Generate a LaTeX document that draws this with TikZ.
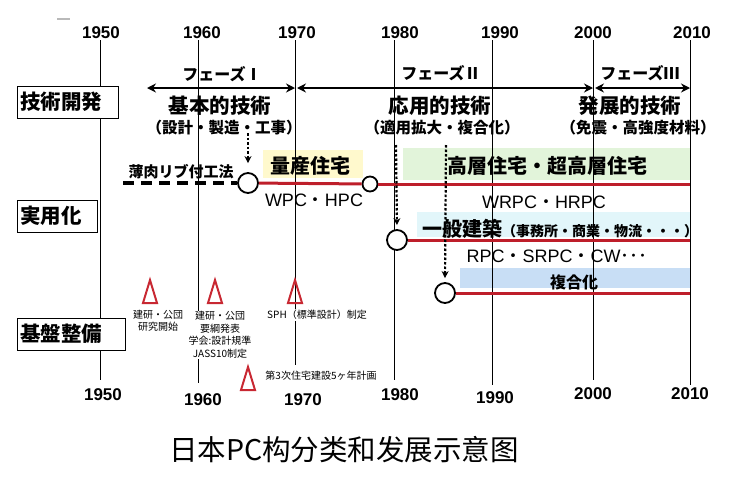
\documentclass[tikz,border=0pt]{standalone}
\usepackage{fontspec}
\setmainfont{Liberation Sans}
\newfontfamily\jp{Noto Sans CJK JP}
\newfontfamily\zh{Noto Sans CJK SC}
\usetikzlibrary{arrows.meta}

\definecolor{pcred}{RGB}{190,30,42}
\definecolor{tricol}{RGB}{200,40,50}
\definecolor{massbg}{RGB}{255,249,205}
\definecolor{highbg}{RGB}{226,244,218}
\definecolor{genbg}{RGB}{226,246,250}
\definecolor{mixbg}{RGB}{200,222,245}

\newcommand\fsz[2]{\fontsize{#1}{#2}\selectfont}

\tikzset{
  yearlab/.style={font=\bfseries\fsz{17}{17}},
  yearline/.style={line width=0.9pt},
  rowbox/.style={draw, line width=0.8pt, fill=white, anchor=west, inner xsep=3pt,
    minimum height=32pt, align=left, font=\jp\bfseries\fsz{20.5}{20.5}},
  phasearrow/.style={line width=2.5pt, {Stealth[length=9pt,width=9pt]}-{Stealth[length=9pt,width=9pt]}},
  phaselab/.style={font=\jp\bfseries\fsz{16}{16}},
  techlab/.style={font=\jp\bfseries\fsz{20.5}{20.5}},
  techsub/.style={font=\jp\bfseries\fsz{15.5}{15.5}},
  stage/.style={circle, draw, line width=1.8pt, fill=white, minimum size=20pt, inner sep=0pt},
  redline/.style={draw=pcred, line width=3pt},
  dotarrow/.style={line width=2.2pt, dash pattern=on 2.5pt off 2pt, -{Stealth[length=7pt,width=7pt]}},
  dashline/.style={line width=3.5pt, dash pattern=on 11pt off 7pt},
  prodlab/.style={font=\jp\bfseries\fsz{20}{20}},
  typelab/.style={font=\fsz{18}{18}},
  note/.style={font=\jp\fsz{10}{12.5}, align=center, fill=white, inner sep=1pt},
  triag/.style={draw=tricol, line width=2pt, line join=miter},
}

\begin{document}
\begin{tikzpicture}[x=1pt,y=-1pt]
  \useasboundingbox (0,0) rectangle (736,485);

  % coloured bands behind the rows
  \fill[massbg] (263,150) rectangle (363,178);
  \fill[highbg] (403,148) rectangle (690,180);
  \fill[genbg] (417,212) rectangle (690,237);
  \fill[mixbg] (460,268) rectangle (690,288);

  % year grid
  \foreach \xx/\yend in {100/380, 198/383, 295/365, 394/380, 492/385, 593/380, 690/385}
    \draw[yearline] (\xx,40) -- (\xx,\yend);
  \foreach \yr/\xx in {1950/101, 1960/202, 1970/297, 1980/400, 1990/500, 2000/593, 2010/692}
    \node[yearlab] (top\yr) at (\xx,33) {\yr};
  \foreach \yr/\xx/\yy in {1950/103/395, 1960/203/400, 1970/303/400, 1980/400/395, 1990/495/398, 2000/593/394, 2010/690/394}
    \node[yearlab] (bot\yr) at (\xx,\yy) {\yr};
  \draw[gray!55, line width=1.2pt] (57,19) -- (70,19);

  % row headings
  \node[rowbox, text width=95pt] (dev) at (17,102) {技術開発};
  \node[rowbox, text width=74pt] (prac) at (17,216) {実用化};
  \node[rowbox, text width=102pt] (base) at (17,334) {基盤整備};

  % phases
  \coordinate (p1a) at (147,88);
  \coordinate (p1b) at (295,88);
  \coordinate (p2a) at (297,88);
  \coordinate (p2b) at (593,88);
  \coordinate (p3a) at (595,88);
  \coordinate (p3b) at (690,88);
  \draw[phasearrow] (p1a) -- (p1b);
  \draw[phasearrow] (p2a) -- (p2b);
  \draw[phasearrow] (p3a) -- (p3b);
  \node[phaselab] (ph1) at (222,74) {フェーズⅠ};
  \node[phaselab] (ph2) at (441,73) {フェーズⅡ};
  \node[phaselab] (ph3) at (640,73) {フェーズⅢ};

  \node[techlab] (basic) at (220,106) {基本的技術};
  \node[techsub] (basicsub) at (224,128) {（設計・製造・工事）};
  \node[techlab] (applied) at (440,106) {応用的技術};
  \node[techsub] (appliedsub) at (442,128) {（適用拡大・複合化）};
  \node[techlab] (advanced) at (630,106) {発展的技術};
  \node[techsub] (advancedsub) at (638,128) {（免震・高強度材料）};

  % practical use
  \node[stage] (c1) at (248,183) {};
  \node[stage, minimum size=15pt] (c2) at (370,184) {};
  \node[stage] (c3) at (397,240) {};
  \node[stage] (c4) at (445,293) {};
  \coordinate (e2) at (690,184);
  \coordinate (e3) at (690,240);
  \coordinate (e4) at (690,293);
  \draw[redline] (c1) -- (c2);
  \draw[redline] (c2) -- (e2);
  \draw[redline] (c3) -- (e3);
  \draw[redline] (c4) -- (e4);

  \coordinate (ds) at (123,183);
  \draw[dashline] (ds) -- (c1.west);
  \node[font=\jp\bfseries\fsz{15}{15}] (thin) at (181,172) {薄肉リブ付工法};

  \coordinate (d1) at (248,133);
  \coordinate (d2) at (396,145);
  \coordinate (d3) at (446,145);
  \draw[dotarrow, shorten >=9pt] (d1) -- (c1.north);
  \draw[dotarrow, shorten >=4pt] (d2) -- (c3.north);
  \draw[dotarrow, shorten >=4pt] (d3) -- (c4.north);

  \node[prodlab] (mass) at (310,166) {量産住宅};
  \node[typelab] (wpc) at (314,200) {WPC{\jp ・}HPC};
  \node[prodlab] (high) at (547,166) {高層住宅・超高層住宅};
  \node[typelab] (wrpc) at (544,202) {WRPC{\jp ・}HRPC};
  \node[prodlab, anchor=west, inner sep=0pt] (gen) at (422,229)
    {一般建築{\fsz{14}{14}（事務所・商業・物流・・・）}};
  \node[typelab] (rpc) at (557,256) {RPC{\jp ・}SRPC{\jp ・}CW{\jp ･･･}};
  \node[prodlab, font=\jp\bfseries\fsz{16}{16}] (mix) at (574,282) {複合化};

  % foundations
  \draw[triag] (150,280) -- (143,303) -- (157,303) -- cycle;
  \draw[triag] (215,280) -- (208,303) -- (222,303) -- cycle;
  \draw[triag] (295,280) -- (288,303) -- (302,303) -- cycle;
  \draw[triag] (248,367) -- (241,390) -- (255,390) -- cycle;
  \node[note] (n1) at (158,321) {建研・公団\\研究開始};
  \node[note] (n2) at (220,335) {建研・公団\\要綱発表\\学会:設計規準\\JASS10制定};
  \node[note] (n3) at (317,315) {SPH（標準設計）制定};
  \node[note] (n4) at (321,376) {第3次住宅建設5ヶ年計画};

  \node[font=\zh\fsz{28.5}{30}] (title) at (344,450) {日本PC构分类和发展示意图};
\end{tikzpicture}
\end{document}
